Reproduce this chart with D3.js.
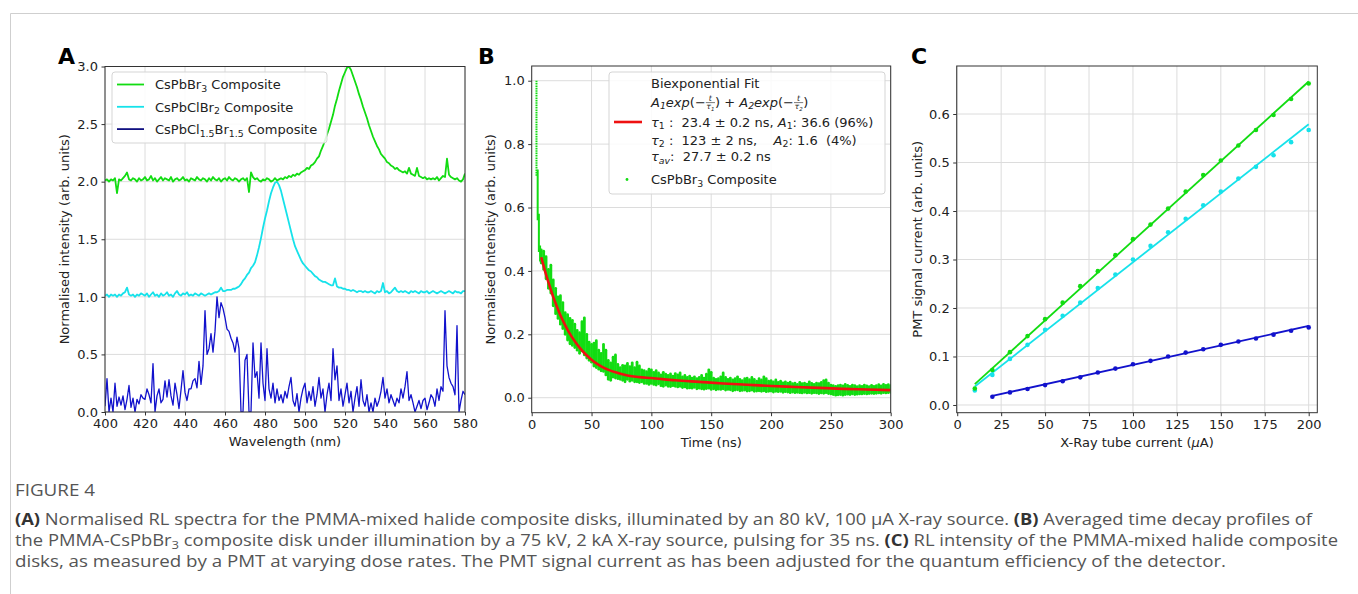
<!DOCTYPE html>
<html>
<head>
<meta charset="utf-8">
<script src="https://cdn.jsdelivr.net/npm/d3@7"></script>
<style>
  body { margin: 0; background: #fff; }
  svg text { font-family: "DejaVu Sans", sans-serif; }
  .cap text { font-family: "Open Sans", "Noto Sans", sans-serif; }
</style>
</head>
<body>
<svg id="fig" width="1358" height="594"></svg>
<script>
// ---- Panel A: RL spectra, sampled every 1 nm from 400 to 580 ----
const wlStart = 400;
const wlStep = 1;
const specBr3 = [
  2.01, 2.02, 2.00, 2.02, 2.01, 2.03, 1.90, 2.02, 2.01, 2.03,
  2.05, 2.08, 2.02, 2.01, 2.03, 2.02, 2.00, 2.03, 2.01, 2.02,
  2.04, 2.01, 2.02, 2.05, 2.01, 2.03, 2.00, 2.02, 2.04, 2.01,
  2.03, 2.02, 2.01, 2.04, 2.00, 2.02, 2.03, 2.01, 2.02, 2.04,
  2.01, 2.02, 2.00, 2.03, 2.02, 2.01, 2.04, 2.02, 2.01, 2.03,
  2.02, 2.00, 2.03, 2.01, 2.04, 2.02, 2.01, 2.03, 2.00, 2.02,
  2.03, 2.01, 2.04, 2.02, 2.01, 2.03, 2.02, 2.00, 2.02, 2.03,
  2.01, 2.03, 1.91, 2.08, 2.04, 2.02, 2.03, 2.01, 2.00, 2.02,
  2.01, 2.03, 2.02, 2.00, 2.01, 2.03, 2.01, 2.02, 2.03, 2.02,
  2.04, 2.03, 2.05, 2.04, 2.06, 2.05, 2.07, 2.06, 2.08, 2.09,
  2.10, 2.12, 2.11, 2.14, 2.15, 2.17, 2.20, 2.22, 2.27, 2.31,
  2.36, 2.41, 2.46, 2.52, 2.58, 2.66, 2.72, 2.79, 2.85, 2.91,
  2.95, 2.99, 3.00, 2.97, 2.92, 2.87, 2.82, 2.76, 2.71, 2.65,
  2.60, 2.55, 2.49, 2.44, 2.39, 2.35, 2.31, 2.28, 2.24, 2.22,
  2.20, 2.17, 2.16, 2.14, 2.13, 2.11, 2.12, 2.10, 2.09, 2.08,
  2.09, 2.07, 2.12, 2.07, 2.06, 2.05, 2.12, 2.05, 2.04, 2.03,
  2.04, 2.02, 2.03, 2.02, 2.03, 2.02, 2.04, 2.01, 2.03, 2.05,
  2.04, 2.20, 2.06, 2.04, 2.03, 2.02, 2.03, 2.01, 2.00, 2.02,
  2.07
];
const specClBr2 = [
  1.01, 1.02, 1.00, 1.02, 1.01, 1.02, 1.00, 1.02, 1.01, 1.03,
  1.04, 1.08, 1.02, 1.01, 1.02, 1.00, 1.02, 1.01, 1.03, 1.02,
  1.01, 1.03, 1.00, 1.02, 1.04, 1.01, 1.02, 1.00, 1.03, 1.01,
  1.02, 1.04, 1.01, 1.02, 1.00, 1.03, 1.05, 1.02, 1.01, 1.03,
  1.02, 1.04, 1.01, 1.02, 1.01, 1.03, 1.02, 1.01, 1.03, 1.02,
  1.01, 1.02, 1.03, 1.02, 1.03, 1.04, 1.04, 1.05, 1.08, 1.05,
  1.05, 1.06, 1.06, 1.06, 1.07, 1.07, 1.08, 1.09, 1.11, 1.14,
  1.16, 1.19, 1.21, 1.25, 1.27, 1.30, 1.36, 1.43, 1.51, 1.60,
  1.68, 1.75, 1.83, 1.90, 1.95, 1.99, 2.00, 1.97, 1.92, 1.85,
  1.78, 1.71, 1.64, 1.57, 1.50, 1.44, 1.40, 1.36, 1.32, 1.29,
  1.27, 1.25, 1.23, 1.22, 1.20, 1.18, 1.17, 1.15, 1.14, 1.13,
  1.13, 1.12, 1.11, 1.10, 1.10, 1.16, 1.09, 1.08, 1.08, 1.07,
  1.07, 1.06, 1.06, 1.05, 1.06, 1.05, 1.04, 1.05, 1.05, 1.04,
  1.05, 1.04, 1.04, 1.05, 1.04, 1.03, 1.05, 1.04, 1.05, 1.12,
  1.04, 1.05, 1.03, 1.04, 1.06, 1.08, 1.05, 1.04, 1.05, 1.04,
  1.05, 1.04, 1.03, 1.05, 1.04, 1.05, 1.04, 1.03, 1.05, 1.04,
  1.04, 1.05, 1.03, 1.04, 1.05, 1.04, 1.03, 1.04, 1.05, 1.04,
  1.03, 1.04, 1.05, 1.04, 1.03, 1.05, 1.04, 1.04, 1.03, 1.05,
  1.05
];
const specCl15 = [
  0.05, 0.29, 0.00, 0.12, 0.00, 0.25, 0.05, 0.13, 0.06, 0.14,
  0.02, 0.11, 0.23, 0.04, 0.12, 0.00, 0.11, 0.07, 0.15, 0.12,
  0.11, 0.20, 0.15, 0.08, 0.42, 0.00, 0.14, 0.20, 0.08, 0.11,
  0.27, 0.13, 0.28, 0.14, 0.06, 0.25, 0.15, 0.03, 0.19, 0.36,
  0.17, 0.10, 0.20, 0.20, 0.27, 0.29, 0.21, 0.44, 0.24, 0.40,
  0.88, 0.50, 0.55, 0.68, 0.52, 0.70, 1.00, 0.82, 0.95, 0.90,
  0.82, 0.72, 0.70, 0.64, 0.60, 0.52, 0.65, 0.55, 0.00, 0.00,
  0.45, 0.50, 0.00, 0.00, 0.60, 0.30, 0.35, 0.12, 0.60, 0.25,
  0.10, 0.55, 0.20, 0.12, 0.25, 0.08, 0.20, 0.10, 0.15, 0.08,
  0.18, 0.12, 0.22, 0.30, 0.10, 0.05, 0.16, 0.00, 0.12, 0.20,
  0.25, 0.08, 0.18, 0.10, 0.22, 0.05, 0.15, 0.30, 0.12, 0.20,
  0.00, 0.15, 0.25, 0.10, 0.55, 0.28, 0.40, 0.10, 0.20, 0.05,
  0.15, 0.25, 0.08, 0.18, 0.00, 0.12, 0.22, 0.05, 0.28, 0.10,
  0.05, 0.15, 0.00, 0.08, 0.00, 0.12, 0.05, 0.10, 0.18, 0.30,
  0.12, 0.20, 0.08, 0.15, 0.10, 0.05, 0.12, 0.08, 0.20, 0.12,
  0.22, 0.35, 0.10, 0.15, 0.08, 0.00, 0.05, 0.10, 0.03, 0.10,
  0.12, 0.02, 0.08, 0.15, 0.12, 0.05, 0.20, 0.10, 0.22, 0.18,
  0.88, 0.40, 0.30, 0.25, 0.22, 0.15, 0.75, 0.00, 0.10, 0.18,
  0.15
];
const spectraNames = [
  [["CsPbBr", 0], ["3", 1], [" Composite", 0]],
  [["CsPbClBr", 0], ["2", 1], [" Composite", 0]],
  [["CsPbCl", 0], ["1.5", 1], ["Br", 0], ["1.5", 1], [" Composite", 0]]
];

// ---- Panel B: decay profile ----
const riseTime = [4, 5, 6, 7];
const riseLo = [0.70, 0.56, 0.46, 0.43];
const riseHi = [1.00, 0.72, 0.58, 0.48];
const tailStart = 8;
const tailStep = 2;
const tailHi = [
  0.466, 0.462, 0.445, 0.405, 0.418, 0.372, 0.345, 0.318, 0.322, 0.300,
  0.268, 0.262, 0.250, 0.244, 0.232, 0.212, 0.205, 0.240, 0.252, 0.200,
  0.175, 0.168, 0.172, 0.180, 0.150, 0.140, 0.168, 0.150, 0.118, 0.110,
  0.128, 0.135, 0.105, 0.095, 0.102, 0.100, 0.108, 0.098, 0.110, 0.095,
  0.112, 0.100, 0.088, 0.085, 0.082, 0.090, 0.088, 0.080, 0.085, 0.078,
  0.072, 0.080, 0.074, 0.070, 0.075, 0.068, 0.076, 0.072, 0.078, 0.066,
  0.070, 0.064, 0.068, 0.062, 0.066, 0.060, 0.064, 0.070, 0.062, 0.074,
  0.088, 0.080, 0.062, 0.058, 0.060, 0.066, 0.078, 0.064, 0.058, 0.062,
  0.056, 0.060, 0.066, 0.058, 0.054, 0.060, 0.062, 0.057, 0.064, 0.058,
  0.052, 0.060, 0.056, 0.066, 0.060, 0.052, 0.054, 0.050, 0.056, 0.048,
  0.052, 0.047, 0.050, 0.046, 0.049, 0.044, 0.046, 0.042, 0.048, 0.044,
  0.046, 0.043, 0.050, 0.045, 0.042, 0.046, 0.044, 0.048, 0.054, 0.056,
  0.046, 0.040, 0.038, 0.036, 0.038, 0.040, 0.037, 0.042, 0.039, 0.036,
  0.040, 0.038, 0.035, 0.038, 0.036, 0.040, 0.037, 0.035, 0.039, 0.036,
  0.038, 0.041, 0.037, 0.042, 0.039, 0.041, 0.038
];
const tailLo = [
  0.425, 0.405, 0.375, 0.345, 0.330, 0.290, 0.265, 0.250, 0.232, 0.218,
  0.200, 0.182, 0.170, 0.165, 0.158, 0.150, 0.140, 0.148, 0.135, 0.125,
  0.118, 0.112, 0.100, 0.095, 0.090, 0.085, 0.083, 0.072, 0.058, 0.055,
  0.065, 0.062, 0.060, 0.058, 0.055, 0.050, 0.058, 0.052, 0.055, 0.050,
  0.050, 0.048, 0.050, 0.045, 0.045, 0.042, 0.045, 0.042, 0.040, 0.044,
  0.038, 0.036, 0.040, 0.036, 0.035, 0.038, 0.036, 0.034, 0.036, 0.032,
  0.034, 0.030, 0.031, 0.030, 0.033, 0.028, 0.030, 0.028, 0.027, 0.029,
  0.030, 0.026, 0.028, 0.025, 0.027, 0.026, 0.028, 0.024, 0.026, 0.025,
  0.022, 0.024, 0.025, 0.022, 0.023, 0.024, 0.021, 0.022, 0.024, 0.020,
  0.021, 0.022, 0.020, 0.022, 0.019, 0.020, 0.021, 0.018, 0.020, 0.019,
  0.020, 0.017, 0.019, 0.018, 0.016, 0.018, 0.016, 0.017, 0.016, 0.015,
  0.017, 0.015, 0.016, 0.014, 0.016, 0.015, 0.013, 0.015, 0.014, 0.016,
  0.013, 0.012, 0.010, 0.008, 0.009, 0.010, 0.008, 0.010, 0.011, 0.010,
  0.012, 0.010, 0.011, 0.012, 0.012, 0.013, 0.012, 0.013, 0.014, 0.013,
  0.014, 0.015, 0.014, 0.016, 0.015, 0.016, 0.017
];
const fitTime = [8, 10, 12, 15, 18, 21, 24, 27, 30, 33, 36, 40, 45, 50, 55, 60, 70, 80, 90,
  100, 120, 140, 160, 180, 200, 220, 240, 260, 280, 300];
const fitValue = [0.443, 0.415, 0.388, 0.352, 0.318, 0.288, 0.260, 0.236, 0.214, 0.195, 0.178,
  0.158, 0.137, 0.120, 0.106, 0.095, 0.080, 0.070, 0.065, 0.062, 0.055, 0.050, 0.045, 0.041,
  0.037, 0.034, 0.031, 0.028, 0.026, 0.024];

// ---- Panel C: PMT current vs tube current ----
const tubeCurrent = [10, 20, 30, 40, 50, 60, 70, 80, 90, 100, 110, 120, 130, 140, 150, 160, 170, 180, 190, 200];
const pmtBr3 = [0.034, 0.072, 0.109, 0.142, 0.177, 0.211, 0.245, 0.276, 0.309, 0.342,
  0.372, 0.405, 0.440, 0.474, 0.504, 0.535, 0.567, 0.598, 0.631, 0.663];
const pmtClBr2 = [0.030, 0.062, 0.095, 0.124, 0.155, 0.184, 0.211, 0.241, 0.269, 0.300,
  0.328, 0.356, 0.384, 0.412, 0.440, 0.467, 0.491, 0.515, 0.542, 0.567];
const tubeCurrentCl = [20, 30, 40, 50, 60, 70, 80, 90, 100, 110, 120, 130, 140, 150, 160, 170, 180, 190, 200];
const pmtCl15 = [0.017, 0.026, 0.033, 0.041, 0.049, 0.057, 0.067, 0.075, 0.084, 0.091,
  0.100, 0.108, 0.115, 0.124, 0.131, 0.137, 0.145, 0.153, 0.160];
const fitBr3 = [[10, 0.043], [200, 0.667]];
const fitClBr2 = [[10, 0.038], [200, 0.579]];
const fitCl15 = [[20, 0.0186], [200, 0.163]];

const green = "#12dc12";
const cyan = "#16e2ea";
const blue = "#1212cc";
const red = "#ee1111";

const svg = d3.select("#fig");
svg.append("rect").attr("width", 1358).attr("height", 594).attr("fill", "#fff");

// card border (top + left)
svg.append("path").attr("d", "M10.5,594 V13.5 H1358").attr("fill", "none").attr("stroke", "#cfcfcf");

// draws text made of pieces; each piece [text, mode] with mode 0 normal, 1 subscript, 2 italic, 3 italic+sub
function rich(g, x, y, pieces, size, fill) {
  let cx = x;
  pieces.forEach(p => {
    if (p.frac) {
      const fs = size * 0.6;
      const bar = y - size * 0.3;
      const num = g.append("text").attr("x", 0).attr("y", bar - 1.5)
        .attr("font-size", fs).attr("font-style", "italic").attr("fill", fill).text(p.frac[0]);
      const den = g.append("text").attr("x", 0).attr("y", bar + fs * 0.85)
        .attr("font-size", fs).attr("font-style", "italic").attr("fill", fill);
      den.append("tspan").text(p.frac[1]);
      den.append("tspan").attr("font-size", fs * 0.7).attr("dy", 1.5).text(p.frac[2]);
      const wn = num.node().getComputedTextLength();
      const wd = den.node().getComputedTextLength();
      const w = Math.max(wn, wd) + 1;
      num.attr("x", cx + (w - wn) / 2);
      den.attr("x", cx + (w - wd) / 2);
      g.append("line").attr("x1", cx).attr("x2", cx + w).attr("y1", bar).attr("y2", bar)
        .attr("stroke", fill).attr("stroke-width", 0.6);
      cx += w;
      return;
    }
    const sub = p[1] === 1 || p[1] === 3;
    const it = p[1] === 2 || p[1] === 3;
    const t = g.append("text").attr("x", cx).attr("y", y + (sub ? size * 0.22 : 0))
      .attr("font-size", sub ? size * 0.72 : size).attr("fill", fill)
      .attr("font-style", it ? "italic" : null).attr("xml:space", "preserve")
      .style("white-space", "pre").text(p[0]);
    cx += t.node().getComputedTextLength();
  });
  return cx;
}

function panel(o) {
  const g = svg.append("g");
  const x = d3.scaleLinear().domain(o.xDomain).range([o.left, o.right]);
  const y = d3.scaleLinear().domain(o.yDomain).range([o.bottom, o.top]);
  const clipId = "clip" + o.label;
  svg.append("clipPath").attr("id", clipId).append("rect")
    .attr("x", o.left).attr("y", o.top).attr("width", o.right - o.left).attr("height", o.bottom - o.top);

  // grid
  g.append("g").selectAll("line").data(o.xTicks).join("line")
    .attr("x1", d => x(d)).attr("x2", d => x(d)).attr("y1", o.top).attr("y2", o.bottom)
    .attr("stroke", "#dcdcdc").attr("stroke-width", 1);
  g.append("g").selectAll("line").data(o.yTicks).join("line")
    .attr("x1", o.left).attr("x2", o.right).attr("y1", d => y(d)).attr("y2", d => y(d))
    .attr("stroke", "#dcdcdc").attr("stroke-width", 1);

  const plot = g.append("g").attr("clip-path", `url(#${clipId})`);

  const ax = g.append("g").attr("transform", `translate(0,${o.bottom})`)
    .call(d3.axisBottom(x).tickValues(o.xTicks).tickFormat(o.fmtX).tickSize(3.5).tickPadding(3.5));
  const ay = g.append("g").attr("transform", `translate(${o.left},0)`)
    .call(d3.axisLeft(y).tickValues(o.yTicks).tickFormat(o.fmtY).tickSize(3.5).tickPadding(3.5));
  [ax, ay].forEach(a => {
    a.select(".domain").remove();
    a.selectAll("line").attr("stroke", "#333");
    a.selectAll("text").attr("font-size", 13).attr("fill", "#222")
      .attr("font-family", "DejaVu Sans, sans-serif");
  });

  g.append("rect").attr("x", o.left).attr("y", o.top)
    .attr("width", o.right - o.left).attr("height", o.bottom - o.top)
    .attr("fill", "none").attr("stroke", "#333").attr("stroke-width", 1);

  g.append("text").attr("x", (o.left + o.right) / 2).attr("y", o.bottom + 34)
    .attr("text-anchor", "middle").attr("font-size", 13).attr("fill", "#222").text(o.xLabel);
  g.append("text").attr("transform", `translate(${o.yLabelX},${(o.top + o.bottom) / 2}) rotate(-90)`)
    .attr("text-anchor", "middle").attr("font-size", 13).attr("fill", "#222").text(o.yLabel);

  g.append("text").attr("x", o.labelX).attr("y", 64).attr("font-size", 22)
    .attr("font-weight", "bold").attr("fill", "#000").text(o.label);
  return { g, plot, x, y };
}

// ---------- Panel A ----------
const A = panel({
  label: "A", labelX: 58, left: 105, right: 465, top: 66.5, bottom: 412,
  xDomain: [400, 580], yDomain: [0, 3],
  xTicks: d3.range(400, 581, 20), yTicks: [0, 0.5, 1, 1.5, 2, 2.5, 3],
  fmtX: d3.format("d"), fmtY: d3.format(".1f"),
  xLabel: "Wavelength (nm)", yLabel: "Normalised intensity (arb. units)", yLabelX: 69
});
const lineA = d3.line().x((d, i) => A.x(wlStart + i * wlStep)).y(d => A.y(d));
[[specCl15, blue, 1.3], [specClBr2, cyan, 1.8], [specBr3, green, 1.8]].forEach(([s, c, w]) => {
  A.plot.append("path").attr("d", lineA(s)).attr("fill", "none")
    .attr("stroke", c).attr("stroke-width", w).attr("stroke-linejoin", "round");
});
// legend A
const legA = A.g.append("g");
legA.append("rect").attr("x", 112).attr("y", 72).attr("width", 215).attr("height", 71).attr("rx", 3)
  .attr("fill", "#fff").attr("fill-opacity", 0.85).attr("stroke", "#d5d5d5");
[green, cyan, "#101080"].forEach((c, i) => {
  const cy = 84.5 + i * 22.3;
  legA.append("line").attr("x1", 117).attr("x2", 144).attr("y1", cy).attr("y2", cy)
    .attr("stroke", c).attr("stroke-width", 1.8);
  rich(legA, 155, cy + 4.7, spectraNames[i], 13, "#222");
});

// ---------- Panel B ----------
const B = panel({
  label: "B", labelX: 478, left: 531.7, right: 890.7, top: 66, bottom: 412.7,
  xDomain: [0, 300], yDomain: [-0.0473, 1.0464],
  xTicks: [0, 50, 100, 150, 200, 250, 300], yTicks: [0, 0.2, 0.4, 0.6, 0.8, 1.0],
  fmtX: d3.format("d"), fmtY: d3.format(".1f"),
  xLabel: "Time (ns)", yLabel: "Normalised Intensity (arb. units)", yLabelX: 495
});
riseTime.forEach((t, i) => {
  B.plot.append("line").attr("x1", B.x(t)).attr("x2", B.x(t))
    .attr("y1", B.y(riseLo[i])).attr("y2", B.y(riseHi[i]))
    .attr("stroke", green).attr("stroke-width", 2).attr("stroke-dasharray", i === 0 ? "1.6,0.8" : null);
});
tailHi.forEach((hi, i) => {
  const t = tailStart + i * tailStep;
  B.plot.append("line").attr("x1", B.x(t)).attr("x2", B.x(t))
    .attr("y1", B.y(tailLo[i])).attr("y2", B.y(hi))
    .attr("stroke", green).attr("stroke-width", 2.8).attr("stroke-linecap", "round");
});
B.plot.append("path")
  .attr("d", d3.line().curve(d3.curveMonotoneX).x((d, i) => B.x(fitTime[i])).y(d => B.y(d))(fitValue))
  .attr("fill", "none").attr("stroke", red).attr("stroke-width", 2.6);

// legend B
const legB = B.g.append("g");
legB.append("rect").attr("x", 609).attr("y", 72).attr("width", 276).attr("height", 122).attr("rx", 3)
  .attr("fill", "#fff").attr("fill-opacity", 0.85).attr("stroke", "#d5d5d5");
const lx = 651;
rich(legB, lx, 88, [["Biexponential Fit", 0]], 13, "#222");
rich(legB, lx, 106.5, [
  ["A", 2], ["1", 3], ["exp", 2], ["(−", 0], { frac: ["t", "τ", "1"] }, [")", 0], [" + ", 0],
  ["A", 2], ["2", 3], ["exp", 2], ["(−", 0], { frac: ["t", "τ", "2"] }, [")", 0]
], 13, "#222");
legB.append("line").attr("x1", 614).attr("x2", 642).attr("y1", 122).attr("y2", 122)
  .attr("stroke", red).attr("stroke-width", 2.6);
rich(legB, lx, 126.5, [["τ", 2], ["1", 1], [" :  23.4 ± 0.2 ns, ", 0], ["A", 2], ["1", 1], [": 36.6 (96%)", 0]], 13, "#222");
rich(legB, lx, 144.5, [["τ", 2], ["2", 1], [" :  123 ± 2 ns,    ", 0], ["A", 2], ["2", 1], [": 1.6  (4%)", 0]], 13, "#222");
rich(legB, lx, 161, [["τ", 2], ["av", 3], [":  27.7 ± 0.2 ns", 0]], 13, "#222");
legB.append("circle").attr("cx", 627).attr("cy", 179.5).attr("r", 1.4).attr("fill", green);
rich(legB, lx, 184, [["CsPbBr", 0], ["3", 1], [" Composite", 0]], 13, "#222");

// ---------- Panel C ----------
const C = panel({
  label: "C", labelX: 911, left: 956.7, right: 1317.3, top: 66, bottom: 412.7,
  xDomain: [-0.3, 204.9], yDomain: [-0.0159, 0.699],
  xTicks: [0, 25, 50, 75, 100, 125, 150, 175, 200], yTicks: [0, 0.1, 0.2, 0.3, 0.4, 0.5, 0.6],
  fmtX: d3.format("d"), fmtY: d3.format(".1f"),
  xLabel: "", yLabel: "PMT signal current (arb. units)", yLabelX: 922
});
const xl = C.g.append("text").attr("x", 1137).attr("y", 447).attr("text-anchor", "middle")
  .attr("font-size", 13).attr("fill", "#222");
xl.append("tspan").text("X-Ray tube current (");
xl.append("tspan").attr("font-style", "italic").text("μ");
xl.append("tspan").text("A)");

const lineC = d3.line().x(d => C.x(d[0])).y(d => C.y(d[1]));
[[fitCl15, blue], [fitClBr2, cyan], [fitBr3, green]].forEach(([f, c]) => {
  C.plot.append("path").attr("d", lineC(f)).attr("fill", "none").attr("stroke", c).attr("stroke-width", 1.8);
});
[[tubeCurrentCl, pmtCl15, blue], [tubeCurrent, pmtClBr2, cyan], [tubeCurrent, pmtBr3, green]].forEach(([xs, ys, c]) => {
  C.plot.append("g").selectAll("circle").data(ys).join("circle")
    .attr("cx", (d, i) => C.x(xs[i])).attr("cy", d => C.y(d)).attr("r", 2.3).attr("fill", c);
});

// ---------- Caption ----------
const cap = svg.append("g").attr("class", "cap");
cap.append("text").attr("x", 15).attr("y", 496).attr("font-size", 16).attr("fill", "#555")
  .attr("textLength", 80).attr("lengthAdjust", "spacingAndGlyphs").text("FIGURE 4");
const capLines = [
  [["(A)", 1], [" Normalised RL spectra for the PMMA-mixed halide composite disks, illuminated by an 80 kV, 100 µA X-ray source. ", 0], ["(B)", 1], [" Averaged time decay profiles of", 0]],
  [["the PMMA-CsPbBr", 0], ["3", 2], [" composite disk under illumination by a 75 kV, 2 kA X-ray source, pulsing for 35 ns. ", 0], ["(C)", 1], [" RL intensity of the PMMA-mixed halide composite", 0]],
  [["disks, as measured by a PMT at varying dose rates. The PMT signal current as has been adjusted for the quantum efficiency of the detector.", 0]]
];
const capWidths = [1297, 1323, 1211];
const capY = [525, 546, 567];
capLines.forEach((parts, i) => {
  const t = cap.append("text").attr("x", 15).attr("y", capY[i]).attr("font-size", 15.5).attr("fill", "#555")
    .attr("textLength", capWidths[i]).attr("lengthAdjust", "spacingAndGlyphs");
  parts.forEach(p => {
    const s = t.append("tspan").text(p[0]);
    if (p[1] === 1) s.attr("font-weight", "bold").attr("fill", "#333");
    if (p[1] === 2) s.attr("font-size", 11).attr("dy", 3);
  });
  // reset baseline after subscript
  t.selectAll("tspan").each(function (d, j, nodes) {
    if (j > 0 && nodes[j - 1].getAttribute("dy") === "3") d3.select(this).attr("dy", -3);
  });
});
</script>
</body>
</html>
